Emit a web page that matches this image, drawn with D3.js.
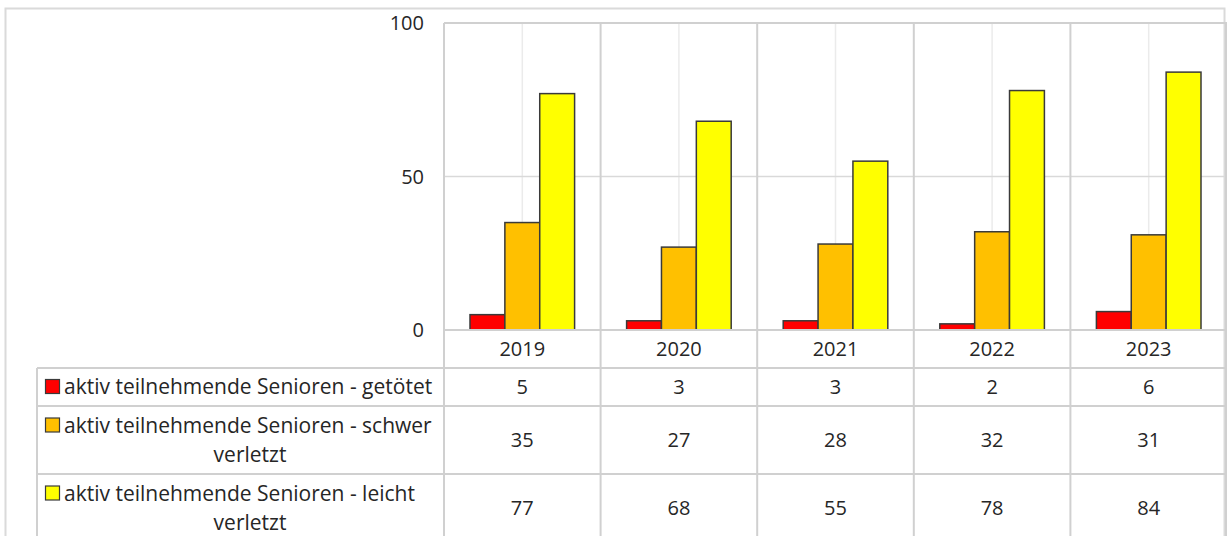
<!DOCTYPE html>
<html>
<head>
<meta charset="utf-8">
<script src="https://cdn.jsdelivr.net/npm/d3@7"></script>
<style>
  body { margin: 0; background: #fff; }
  text { font-family: "Open Sans", "Noto Sans", sans-serif; fill: #262626; }
</style>
</head>
<body>
<div id="chart"></div>
<script>
const years = ["2019", "2020", "2021", "2022", "2023"];
const seriesNames = [
  "aktiv teilnehmende Senioren - getötet",
  "aktiv teilnehmende Senioren - schwer verletzt",
  "aktiv teilnehmende Senioren - leicht verletzt"
];
const seriesLines = [
  ["aktiv teilnehmende Senioren - getötet"],
  ["aktiv teilnehmende Senioren - schwer", "verletzt"],
  ["aktiv teilnehmende Senioren - leicht", "verletzt"]
];
const getoetet = [5, 3, 3, 2, 6];
const schwer = [35, 27, 28, 32, 31];
const leicht = [77, 68, 55, 78, 84];
const yTicks = [0, 50, 100];
const colors = ["#ff0000", "#ffc000", "#ffff00"];

const values = [getoetet, schwer, leicht];
const width = 1227, height = 536;
const plot = { left: 444, right: 1227, top: 23, bottom: 330 };
const tableLeft = 37;
const rowLines = [368, 406, 474, 542];
const numSize = 20, labelSize = 21;

const svg = d3.select("#chart").append("svg")
  .attr("width", width).attr("height", height)
  .attr("viewBox", [0, 0, width, height]);

// outer frame
svg.append("rect")
  .attr("x", 5.5).attr("y", 8.5)
  .attr("width", 1219).attr("height", 600)
  .attr("fill", "none").attr("stroke", "#dadada").attr("stroke-width", 2);

const xScale = d3.scaleBand().domain(years).range([plot.left, plot.right]);
const xInner = d3.scaleBand().domain(d3.range(seriesNames.length))
  .range([26, xScale.bandwidth() - 26]);
const yScale = d3.scaleLinear().domain([0, 100]).range([plot.bottom, plot.top]);

// light center gridlines
svg.selectAll(".vgrid").data(years).join("line")
  .attr("x1", d => xScale(d) + xScale.bandwidth() / 2)
  .attr("x2", d => xScale(d) + xScale.bandwidth() / 2)
  .attr("y1", plot.top).attr("y2", plot.bottom)
  .attr("stroke", "#ebebeb").attr("stroke-width", 1.5);

// horizontal gridlines
svg.selectAll(".hgrid").data(yTicks.filter(t => t > 0)).join("line")
  .attr("x1", plot.left).attr("x2", plot.right)
  .attr("y1", d => yScale(d)).attr("y2", d => yScale(d))
  .attr("stroke", "#d9d9d9").attr("stroke-width", 1.5);

// y tick labels
svg.selectAll(".ylab").data(yTicks).join("text")
  .attr("x", 424).attr("y", d => yScale(d) + 7)
  .attr("text-anchor", "end")
  .attr("font-size", numSize)
  .text(d => d);

// bars
const groups = svg.selectAll(".year").data(years).join("g")
  .attr("transform", d => `translate(${xScale(d)},0)`);
groups.selectAll("rect")
  .data((d, i) => values.map((v, s) => ({ s, v: v[i] })))
  .join("rect")
    .attr("x", d => xInner(d.s))
    .attr("width", xInner.bandwidth())
    .attr("y", d => yScale(d.v))
    .attr("height", d => yScale(0) - yScale(d.v))
    .attr("fill", d => colors[d.s])
    .attr("stroke", "#3a3a3a").attr("stroke-width", 1.5);

// table lines
const grid = svg.append("g").attr("stroke", "#d0d0d0").attr("stroke-width", 2);
grid.append("line").attr("x1", plot.left).attr("x2", plot.right)
  .attr("y1", plot.top).attr("y2", plot.top);
grid.append("line").attr("x1", plot.left).attr("x2", plot.right)
  .attr("y1", plot.bottom).attr("y2", plot.bottom);
grid.selectAll(".hrow").data(rowLines.slice(0, 3)).join("line")
  .attr("x1", tableLeft).attr("x2", plot.right)
  .attr("y1", d => d).attr("y2", d => d);
grid.selectAll(".vcol").data(years.concat(["end"])).join("line")
  .attr("x1", d => d === "end" ? plot.right - 1 : xScale(d))
  .attr("x2", d => d === "end" ? plot.right - 1 : xScale(d))
  .attr("y1", plot.top).attr("y2", height);
grid.append("line").attr("x1", tableLeft).attr("x2", tableLeft)
  .attr("y1", rowLines[0]).attr("y2", height);

// year row
svg.selectAll(".yearlab").data(years).join("text")
  .attr("x", d => xScale(d) + xScale.bandwidth() / 2)
  .attr("y", (plot.bottom + rowLines[0]) / 2 + 7)
  .attr("text-anchor", "middle").attr("font-size", numSize)
  .text(d => d);

// data rows
seriesNames.forEach((name, s) => {
  const top = rowLines[s], bottom = rowLines[s + 1];
  const mid = (top + bottom) / 2;
  svg.selectAll(".val" + s).data(values[s]).join("text")
    .attr("x", (d, i) => xScale(years[i]) + xScale.bandwidth() / 2)
    .attr("y", mid + 7)
    .attr("text-anchor", "middle").attr("font-size", numSize)
    .text(d => d);

  const lines = seriesLines[s];
  const lh = 29;
  const y0 = mid + 7 - (lines.length - 1) * lh / 2;
  svg.append("rect")
    .attr("x", 45.5).attr("y", y0 - 14.5)
    .attr("width", 14).attr("height", 14)
    .attr("fill", colors[s]).attr("stroke", "#3a3a3a").attr("stroke-width", 1.2);
  lines.forEach((ln, k) => {
    svg.append("text")
      .attr("x", k === 0 ? 64 : 250)
      .attr("y", y0 + k * lh)
      .attr("text-anchor", k === 0 ? "start" : "middle")
      .attr("font-size", labelSize)
      .text(ln);
  });
});
</script>
</body>
</html>
